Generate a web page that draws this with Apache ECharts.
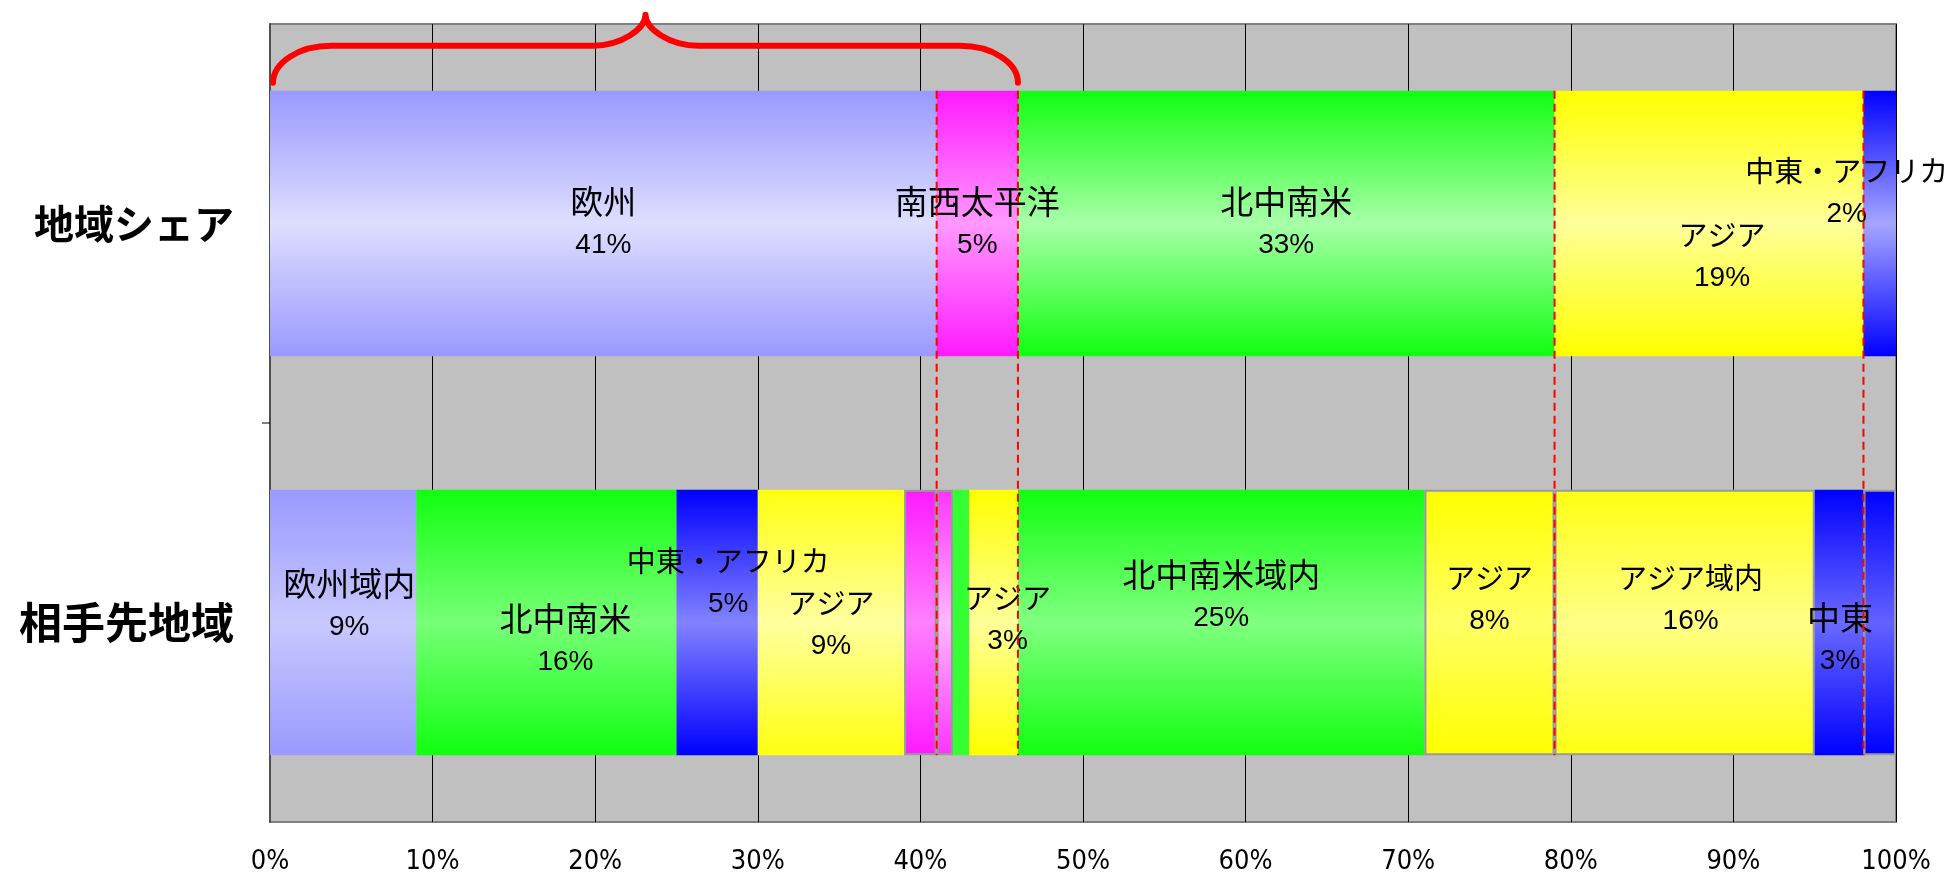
<!DOCTYPE html>
<html>
<head>
<meta charset="utf-8">
<title>地域シェアと相手先地域</title>
<script src="https://cdn.jsdelivr.net/npm/echarts@6/dist/echarts.min.js"></script>
<style>
  html, body { margin: 0; padding: 0; background: #ffffff; }
  #chart { width: 1946px; height: 877px; }
</style>
</head>
<body>
<div id="chart"></div>
<script>
// ---- data ----
const rowNames = ['地域シェア', '相手先地域'];
const xTickLabels = ['0%', '10%', '20%', '30%', '40%', '50%', '60%', '70%', '80%', '90%', '100%'];

// Row 1: overall share by region (%)
const shareNames  = ['欧州', '南西太平洋', '北中南米', 'アジア', '中東・アフリカ'];
const shareValues = [41, 5, 33, 19, 2];

// Row 2: partner regions (%)
const partnerNames  = ['欧州域内', '北中南米', '中東・アフリカ', 'アジア', '南西太平洋', '南西太平洋域内',
                       '北中南米', 'アジア', '北中南米域内', 'アジア', 'アジア域内', '中東', '中東・アフリカ'];
const partnerValues = [9, 16, 5, 9, 2, 1, 1, 3, 25, 8, 16, 3, 2];
const partnerLabeled = [true, true, true, true, false, false, false, true, true, true, true, true, false];

// Brace above the first two share segments (value range on the x axis)
const braceRange = [0, shareValues[0] + shareValues[1]];

// ---- styles ----
// [edge colour, centre colour] for the vertical gradient of each segment
const shareColors = [
  ['#9999ff', '#dedeff'],
  ['#ff1aff', '#ff99ff'],
  ['#11ff11', '#a8ffa8'],
  ['#ffff00', '#ffff99'],
  ['#0000ff', '#a6a6ff']
];
const partnerColors = [
  ['#9999ff', '#c8c8ff'],
  ['#11ff11', '#77ff77'],
  ['#0000ff', '#8282ff'],
  ['#ffff11', '#ffffa0'],
  ['#ff1aff', '#ff80ff'],
  ['#ff33ff', '#ffb8ff'],
  ['#33ff33', '#33ff33'],
  ['#ffff00', '#ffff99'],
  ['#11ff11', '#80ff80'],
  ['#ffff00', '#ffff66'],
  ['#ffff11', '#ffff88'],
  ['#0000ff', '#6a6aff'],
  ['#0000ff', '#6262ff']
];
const partnerBordered = [false, false, false, false, true, true, false, false, false, true, true, false, true];
// label nudges in pixels [dx, dy]
const shareLabelShift = [[0, 0], [0, 0], [0, 0], [13, 33], [-33, -31]];
const partnerLabelShift = [[6, -17], [19, 18], [11, -40], [0, 2], [0, 0], [0, 0], [0, 0],
                           [14, -3], [0, -26], [0, -23], [6, -23], [1, 17], [0, 0]];

const BAR_RATIO = 0.665;            // bar thickness as a share of the category band
const cjkFont = "'Noto Sans CJK JP', sans-serif";
const numFont = "'Liberation Sans', 'Noto Sans CJK JP', sans-serif";

function grad(c) {
  return new echarts.graphic.LinearGradient(0, 0, 0, 1, [
    { offset: 0, color: c[0] },
    { offset: 0.5, color: c[1] },
    { offset: 1, color: c[0] }
  ]);
}

// kana runs narrower in the label face, so names containing katakana are set a bit smaller
function nameSize(name) {
  return /[\u30A0-\u30FF]/.test(name) ? 29 : 33;
}

function segmentSeries(name, value, rowIndex, colors, shift, showLabel, bordered) {
  const data = rowIndex === 0 ? [value, '-'] : ['-', value];
  return {
    type: 'bar',
    name: name,
    stack: 'share',
    barCategoryGap: ((1 - BAR_RATIO) * 100).toFixed(1) + '%',
    data: data,
    silent: true,
    itemStyle: {
      color: grad(colors),
      borderColor: bordered ? '#9a9a9a' : 'transparent',
      borderWidth: bordered ? 2 : 0
    },
    label: {
      show: showLabel,
      position: 'inside',
      offset: shift,
      formatter: function (p) { return '{n|' + p.seriesName + '}\n{v|' + p.value + '%}'; },
      color: '#000000',
      rich: {
        n: { fontFamily: cjkFont, fontSize: nameSize(name), lineHeight: 44, color: '#000000' },
        v: { fontFamily: numFont, fontSize: 28, lineHeight: 44, color: '#000000' }
      }
    }
  };
}

const series = [];
shareNames.forEach(function (n, i) {
  series.push(segmentSeries(n, shareValues[i], 0, shareColors[i], shareLabelShift[i], true, false));
});
partnerNames.forEach(function (n, i) {
  series.push(segmentSeries(n, partnerValues[i], 1, partnerColors[i], partnerLabelShift[i],
                            partnerLabeled[i], partnerBordered[i]));
});

// Dashed red guides at the share boundaries, running through both rows
const guideValues = [];
shareValues.slice(0, -1).reduce(function (acc, v) {
  const s = acc + v; guideValues.push([s, 0]); return s;
}, 0);

series.push({
  type: 'custom',
  name: 'guides',
  silent: true,
  z: 6,
  data: guideValues,
  encode: { x: 0, y: 1 },
  renderItem: function (params, api) {
    const v = api.value(0);
    const top = api.coord([v, 0]);
    const bot = api.coord([v, 1]);
    const half = api.size([0, 1])[1] * BAR_RATIO / 2;
    return {
      type: 'line',
      shape: { x1: top[0], y1: top[1] - half, x2: bot[0], y2: bot[1] + half },
      style: { stroke: '#ff0000', lineWidth: 2, lineDash: [8, 5] }
    };
  }
});

// Curly brace above the first row
series.push({
  type: 'custom',
  name: 'brace',
  silent: true,
  z: 6,
  data: [[braceRange[0], braceRange[1], 0]],
  encode: { x: [0, 1], y: 2 },
  renderItem: function (params, api) {
    const a = api.coord([api.value(0), 0]);
    const b = api.coord([api.value(1), 0]);
    const half = api.size([0, 1])[1] * BAR_RATIO / 2;
    const barTop = a[1] - half;
    const x0 = a[0] + 3, x1 = b[0];
    const xm = (x0 + x1) / 2;
    const yTip = barTop - 8, yH = barTop - 45, yPk = barTop - 76;
    const ew = 58, cw = 53, k = 0.55;
    const d = [
      'M', x0, yTip,
      'C', x0, yTip - k * (yTip - yH), x0 + ew * (1 - k), yH, x0 + ew, yH,
      'L', xm - cw, yH,
      'C', xm - cw + k * cw, yH, xm, yH - k * (yH - yPk), xm, yPk,
      'C', xm, yH - k * (yH - yPk), xm + cw - k * cw, yH, xm + cw, yH,
      'L', x1 - ew, yH,
      'C', x1 - ew * (1 - k), yH, x1, yTip - k * (yTip - yH), x1, yTip
    ].join(' ');
    return {
      type: 'path',
      shape: { pathData: d },
      style: { stroke: '#ff0000', lineWidth: 6, fill: null, lineCap: 'round', lineJoin: 'round' }
    };
  }
});

// Single tick on the category axis, between the two rows
series.push({
  type: 'custom',
  name: 'rowTick',
  silent: true,
  z: 6,
  data: [[0, 0]],
  encode: { x: 0, y: 1 },
  renderItem: function (params, api) {
    const p0 = api.coord([api.value(0), 0]);
    const p1 = api.coord([api.value(0), 1]);
    const y = (p0[1] + p1[1]) / 2;
    return {
      type: 'line',
      shape: { x1: p0[0] - 8, y1: y, x2: p0[0], y2: y },
      style: { stroke: '#000000', lineWidth: 1 }
    };
  }
});

const chart = echarts.init(document.getElementById('chart'), null, { renderer: 'canvas' });
chart.setOption({
  animation: false,
  backgroundColor: '#ffffff',
  grid: {
    left: 270, right: 50, top: 24, bottom: 55,
    show: true,
    backgroundColor: '#c0c0c0',
    borderColor: '#808080',
    borderWidth: 2
  },
  xAxis: {
    type: 'value',
    min: 0, max: 100, interval: 10,
    axisLine: { show: false },
    axisTick: { show: false },
    splitLine: { show: true, lineStyle: { color: '#000000', width: 1 } },
    axisLabel: {
      margin: 26,
      fontFamily: "'Liberation Sans Narrow', 'DejaVu Sans Condensed', 'Liberation Sans', sans-serif",
      fontSize: 27,
      color: '#000000',
      formatter: function (v) { return xTickLabels[Math.round(v / 10)]; }
    }
  },
  yAxis: {
    type: 'category',
    inverse: true,
    data: [
      { value: rowNames[0], textStyle: { fontSize: 40 } },
      { value: rowNames[1], textStyle: { fontSize: 43 } }
    ],
    axisLine: { show: true, lineStyle: { color: '#505050', width: 2 } },
    axisTick: { show: false },
    axisLabel: {
      margin: 36,
      fontFamily: cjkFont,
      fontWeight: 'bold',
      fontSize: 40,
      color: '#000000'
    }
  },
  series: series
});
</script>
</body>
</html>
